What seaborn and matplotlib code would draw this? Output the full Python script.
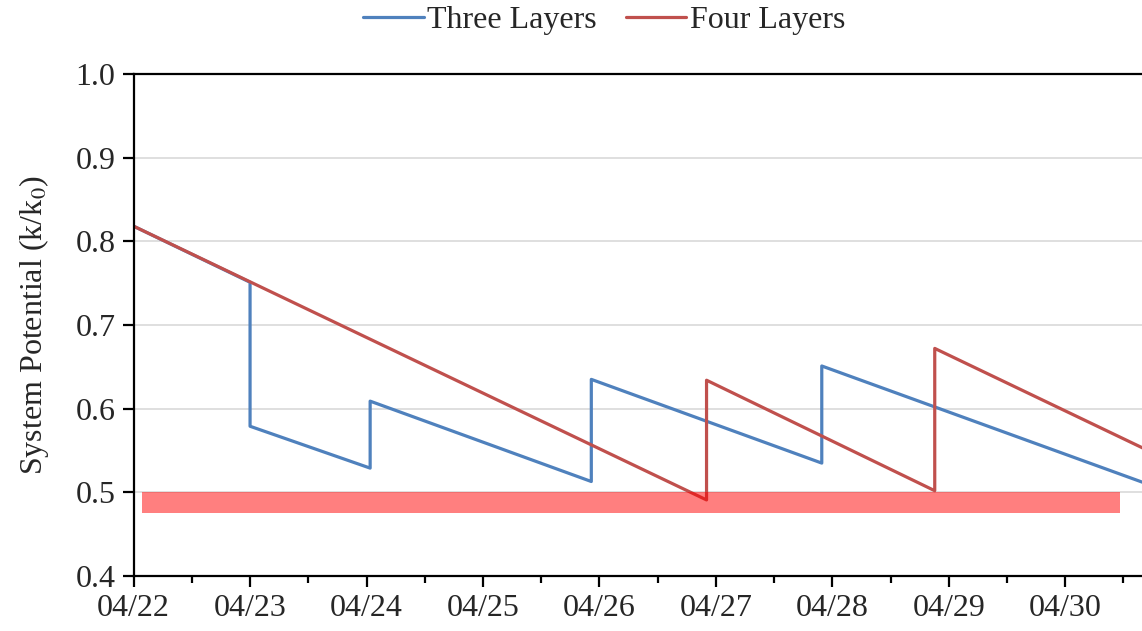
import matplotlib
matplotlib.use("Agg")
import matplotlib.pyplot as plt
import matplotlib.dates as mdates
import pandas as pd
import seaborn as sns

# Three Layers series (vertical jumps = repeated timestamps)
three_times = ["2024-04-22 00:00", "2024-04-23 00:00", "2024-04-23 00:00",
               "2024-04-24 00:45", "2024-04-24 00:45", "2024-04-25 22:20",
               "2024-04-25 22:20", "2024-04-27 21:50", "2024-04-27 21:50",
               "2024-04-30 16:00"]
three_values = [0.818, 0.751, 0.579, 0.529, 0.609, 0.513, 0.635, 0.535, 0.651, 0.512]

# Four Layers series
four_times = ["2024-04-22 00:00", "2024-04-26 22:05", "2024-04-26 22:05",
              "2024-04-28 21:07", "2024-04-28 21:07", "2024-04-30 16:00"]
four_values = [0.818, 0.491, 0.634, 0.502, 0.672, 0.553]

# threshold band
band_times = ["2024-04-22 01:45", "2024-04-30 11:15"]
band_low = 0.475
band_high = 0.5

three = pd.DataFrame({"t": pd.to_datetime(three_times), "v": three_values})
four = pd.DataFrame({"t": pd.to_datetime(four_times), "v": four_values})
band_t = pd.to_datetime(band_times)

sns.set_style("ticks")
plt.rcParams["font.family"] = ["Liberation Serif", "DejaVu Serif"]
plt.rcParams["mathtext.fontset"] = "stix"

FS = 23

fig = plt.figure(figsize=(11.42, 6.31), dpi=100)
ax = fig.add_axes([0.117, 0.087, 0.883, 0.796])

sns.lineplot(data=three, x="t", y="v", sort=False, estimator=None,
             color="#4F81BD", linewidth=2.3, label="Three Layers", ax=ax)
sns.lineplot(data=four, x="t", y="v", sort=False, estimator=None,
             color="#C0504D", linewidth=2.3, label="Four Layers", ax=ax)
ax.fill_between(band_t, band_low, band_high, color="#FF0000", alpha=0.5,
                linewidth=0, zorder=3)

ax.set_ylim(0.4, 1.0)
ax.set_yticks([0.4, 0.5, 0.6, 0.7, 0.8, 0.9, 1.0])
ax.yaxis.set_major_formatter(matplotlib.ticker.FormatStrFormatter("%.1f"))
ax.set_xlim(pd.Timestamp("2024-04-22 00:00"), pd.Timestamp("2024-04-30 15:50"))
ax.xaxis.set_major_locator(mdates.DayLocator())
ax.xaxis.set_major_formatter(mdates.DateFormatter("%m/%d"))
ax.xaxis.set_minor_locator(mdates.HourLocator(byhour=12))

ax.grid(axis="y", color="#D9D9D9", linewidth=1.2)
ax.set_axisbelow(True)
ax.spines["right"].set_visible(False)
for s in ["left", "bottom", "top"]:
    ax.spines[s].set_color("black")
    ax.spines[s].set_linewidth(1.6)

ax.tick_params(axis="both", which="major", labelsize=FS, length=8, width=1.6,
               color="black", direction="out", pad=5)
ax.tick_params(axis="x", which="minor", length=5, width=1.6, color="black")

ax.set_xlabel("")
ax.set_ylabel("System Potential (k/k$_0$)", fontsize=FS, labelpad=18)

ax.legend(loc="center", bbox_to_anchor=(0.529, 0.968), bbox_transform=fig.transFigure,
          ncol=2, frameon=False, fontsize=FS, handlelength=1.9,
          handletextpad=0.1, columnspacing=0.9)

fig.savefig("out.png", dpi=100)
